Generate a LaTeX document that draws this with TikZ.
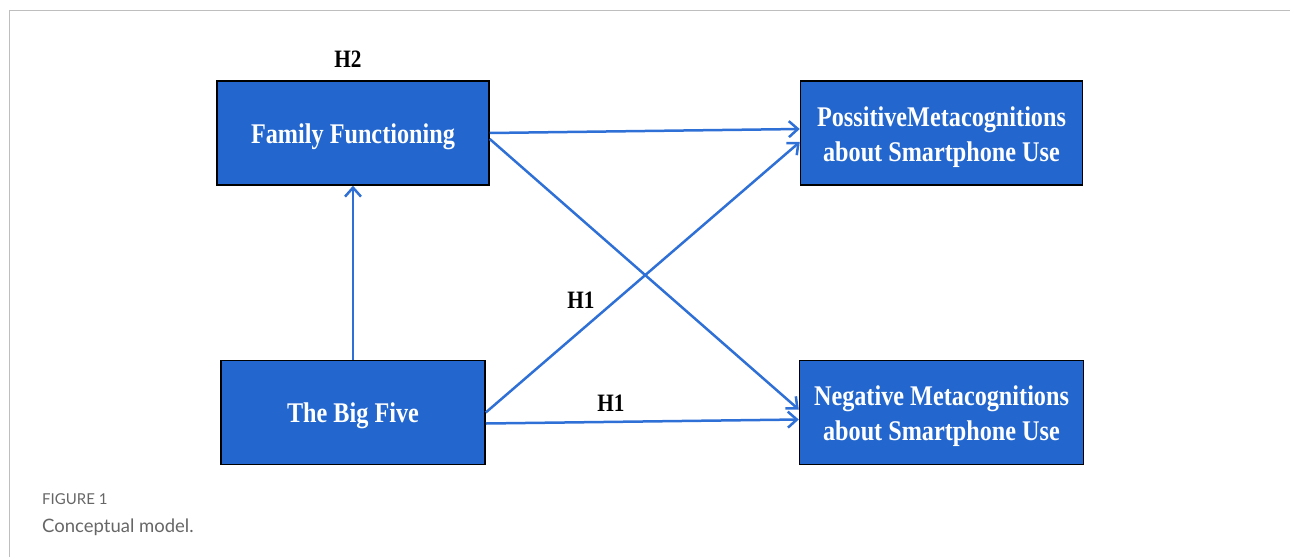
\documentclass[tikz,border=0pt]{standalone}
\usepackage{fontspec}
\setmainfont{Liberation Serif}
\newfontfamily\boxfont[FakeStretch=0.85]{Liberation Serif}
\newfontfamily\capfont{Lato}
\usetikzlibrary{positioning,arrows.meta}
\definecolor{boxblue}{RGB}{34,102,206}
\definecolor{arrowblue}{RGB}{47,112,214}
\definecolor{framegray}{RGB}{190,190,190}
\definecolor{capgray}{RGB}{102,102,102}
\tikzset{
  block/.style={draw=black, line width=1.5pt, fill=boxblue, text=white, align=center,
    font=\boxfont\bfseries\fontsize{28.5}{35}\selectfont, minimum height=104pt, inner sep=0pt,
    text height=27pt},
  twolines/.style={text height=63pt},
  link/.style={draw=arrowblue, line width=2.5pt, -{Straight Barb[length=9pt,width=16pt]}},
  hyp/.style={font=\boxfont\bfseries\fontsize{25}{30}\selectfont, inner sep=0pt},
  capt/.style={anchor=base west, text=capgray, inner sep=0pt}
}

\begin{document}
\begin{tikzpicture}[x=1pt,y=-1pt]
        \useasboundingbox (0,0) rectangle (1290,557);
        \draw[framegray, line width=1.5pt] (9.5,557) -- (9.5,10.5) -- (1290,10.5);
        \node[block, minimum width=272pt] (family) at (353,133) {Family Functioning};
        \node[block, minimum width=264pt, below=174pt of family] (bigfive) {The Big Five};
        \node[block, twolines, minimum width=282pt, right=310pt of family] (positive) {PossitiveMetacognitions\\about Smartphone Use};
        \node[block, twolines, minimum width=284pt, below=174pt of positive] (negative) {Negative Metacognitions\\about Smartphone Use};
        \node[hyp, above=13pt of family, xshift=-5pt] (h2) {H2};
        \draw[link] (family.east) -- ([yshift=4pt]positive.west);
        \draw[link] ([yshift=-6pt]family.east) -- ([yshift=3pt]negative.west);
        \draw[link] (bigfive.east) -- node[hyp, pos=0.35, anchor=south east, yshift=8pt] (h1up) {H1} ([yshift=-9pt]positive.west);
        \draw[link] ([yshift=-11pt]bigfive.east) -- node[hyp, pos=0.4, above=9pt] (h1low) {H1} ([yshift=-7pt]negative.west);
        \draw[link] (bigfive) -- (family);
        \node[capt, font=\capfont\fontsize{15}{18}\selectfont] (figno) at (42,504) {FIGURE 1};
        \node[capt, font=\capfont\fontsize{18.5}{22}\selectfont] (caption) at (42,532) {Conceptual model.};
    \end{tikzpicture}
\end{document}
